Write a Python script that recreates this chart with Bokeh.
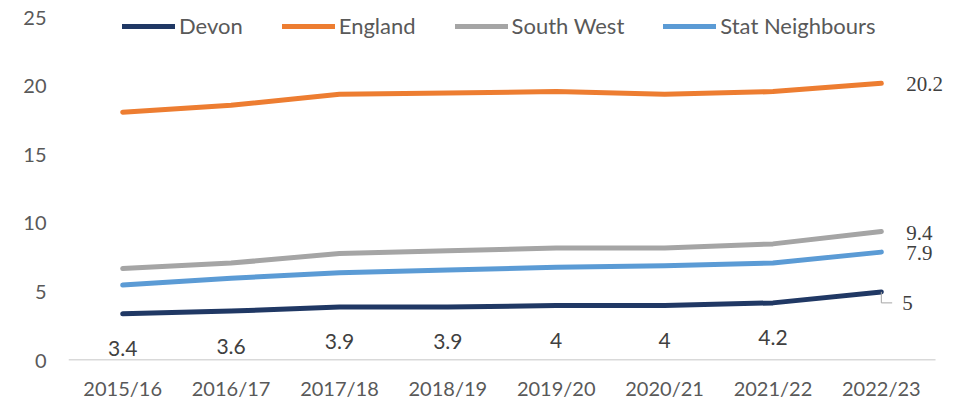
from bokeh.plotting import figure
from bokeh.models import ColumnDataSource, Legend, LegendItem, LabelSet, Range1d, FixedTicker
from bokeh.transform import dodge
from bokeh.embed import file_html
from bokeh.resources import INLINE
from bokeh.core.properties import value

years = ["2015/16", "2016/17", "2017/18", "2018/19", "2019/20", "2020/21", "2021/22", "2022/23"]
devon = [3.4, 3.6, 3.9, 3.9, 4.0, 4.0, 4.2, 5.0]
england = [18.1, 18.6, 19.4, 19.5, 19.6, 19.4, 19.6, 20.2]
south_west = [6.7, 7.1, 7.8, 8.0, 8.2, 8.2, 8.5, 9.4]
stat_neighbours = [5.5, 6.0, 6.4, 6.6, 6.8, 6.9, 7.1, 7.9]
y_ticks = [0, 5, 10, 15, 20, 25]

series = [
    ("Devon", devon, "#203864"),
    ("England", england, "#ED7D31"),
    ("South West", south_west, "#A5A5A5"),
    ("Stat Neighbours", stat_neighbours, "#5B9BD5"),
]

FONT = "Lato"
xs = list(range(len(years)))
n = len(years)

# frame spans the full width on the right / top so end labels and legend are not clipped
p = figure(x_range=Range1d(-0.5, n - 0.5 + 0.378), y_range=Range1d(0, 26.24),
           width=976, height=402, output_backend="svg", toolbar_location=None,
           min_border_left=68, min_border_right=0, min_border_top=0, min_border_bottom=41)
p.xgrid.grid_line_color = None
p.ygrid.grid_line_color = None
p.outline_line_color = None
p.background_fill_color = "white"

p.yaxis.ticker = FixedTicker(ticks=y_ticks)
p.yaxis.axis_line_color = None
p.yaxis.major_tick_line_color = None
p.yaxis.minor_tick_line_color = None
p.yaxis.major_label_standoff = 16
p.xaxis.ticker = FixedTicker(ticks=xs)
p.xaxis.major_label_overrides = {i: y for i, y in zip(xs, years)}
p.xaxis.axis_line_color = None
p.xaxis.major_tick_line_color = None
p.xaxis.minor_tick_line_color = None
p.xaxis.major_label_standoff = 9
for ax in (p.xaxis[0], p.yaxis[0]):
    ax.major_label_text_font = FONT
    ax.major_label_text_font_size = "20px"
    ax.major_label_text_color = "#595959"

# category axis baseline
p.segment(x0=[-0.5], x1=[n - 0.5], y0=[0], y1=[0], line_color="#D9D9D9", line_width=3)

items = []
for name, vals, color in series:
    src = ColumnDataSource(dict(x=xs, y=vals))
    r = p.line("x", "y", source=src, line_color=color, line_width=5,
               line_cap="round", line_join="round")
    items.append(LegendItem(label=name, renderers=[r]))

# Devon labels below points (all but last)
dsrc = ColumnDataSource(dict(x=xs[:-1], y=devon[:-1], t=[f"{v:g}" for v in devon[:-1]]))
p.text("x", "y", text="t", source=dsrc, text_align="center", text_baseline="middle",
       y_offset=35, text_font=value(FONT), text_font_size="21px", text_color="#404040")

# Last-point labels on the right
last_src = ColumnDataSource(dict(
    x=[xs[-1]] * 3,
    y=[england[-1], south_west[-1], stat_neighbours[-1]],
    t=[f"{england[-1]:g}", f"{south_west[-1]:g}", f"{stat_neighbours[-1]:g}"]))
p.add_layout(LabelSet(x="x", y="y", text="t", source=last_src, text_align="left",
                      text_baseline="middle", x_offset=25, y_offset=-1,
                      text_font=FONT, text_font_size="21px", text_color="#404040"))

dl = ColumnDataSource(dict(x=[xs[-1]], y=[devon[-1]], t=[f"{devon[-1]:g}"]))
p.add_layout(LabelSet(x="x", y="y", text="t", source=dl, text_align="left",
                      text_baseline="middle", x_offset=21, y_offset=-11,
                      text_font=FONT, text_font_size="21px", text_color="#404040"))
# leader line for Devon last label
p.segment(x0="x", y0="y", x1="x", y1=dodge("y", -0.8), source=dl,
          line_color="#A6A6A6", line_width=1)
p.segment(x0="x", y0=dodge("y", -0.8), x1=dodge("x", 0.1),
          y1=dodge("y", -0.8), source=dl, line_color="#A6A6A6", line_width=1)

legend = Legend(items=items, orientation="horizontal", location=(54, 321),
                glyph_width=53, glyph_height=20, label_height=20, label_standoff=4,
                spacing=39, padding=0, margin=0, border_line_color=None,
                background_fill_alpha=0, label_text_font=FONT,
                label_text_font_size="22px", label_text_color="#595959")
p.add_layout(legend)

open("out.html", "w").write(file_html(p, INLINE))
